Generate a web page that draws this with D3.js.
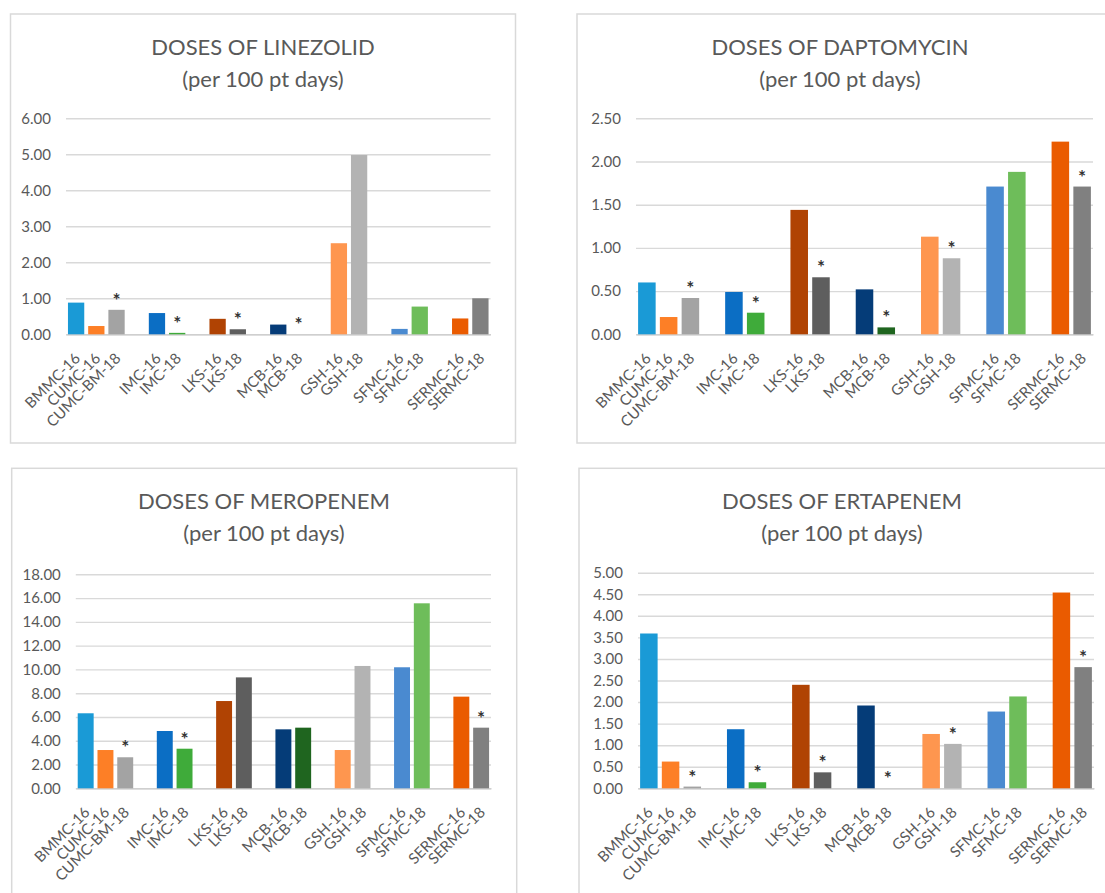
<!DOCTYPE html>
<html>
<head>
<meta charset="utf-8">
<script src="https://cdn.jsdelivr.net/npm/d3@7/dist/d3.min.js"></script>
<style>
  html, body { margin: 0; padding: 0; background: #ffffff; }
  svg { display: block; font-family: Lato, "Open Sans", sans-serif; }
</style>
</head>
<body>
<svg id="chart" width="1105" height="893"></svg>
<script>
// Hospital sites, with empty slots separating the site groups on the category axis
const categories = ["BMMC-16", "CUMC-16", "CUMC-BM-18", null, "IMC-16", "IMC-18", null,
  "LKS-16", "LKS-18", null, "MCB-16", "MCB-18", null, "GSH-16", "GSH-18", null,
  "SFMC-16", "SFMC-18", null, "SERMC-16", "SERMC-18"];

// Doses per 100 patient days, one value per named category above
const linezolidValues  = [0.88, 0.23, 0.68, 0.59, 0.04, 0.43, 0.14, 0.27, 0.00, 2.53, 4.98, 0.15, 0.77, 0.44, 1.00];
const daptomycinValues = [0.60, 0.20, 0.42, 0.49, 0.25, 1.44, 0.66, 0.52, 0.08, 1.13, 0.88, 1.71, 1.88, 2.23, 1.71];
const meropenemValues  = [6.31, 3.22, 2.61, 4.82, 3.33, 7.34, 9.33, 4.96, 5.10, 3.22, 10.29, 10.18, 15.56, 7.71, 5.10];
const ertapenemValues  = [3.59, 0.62, 0.04, 1.37, 0.14, 2.40, 0.37, 1.92, 0.00, 1.26, 1.03, 1.78, 2.13, 4.54, 2.81];

// Bars flagged with an asterisk in each chart
const linezolidStars  = ["CUMC-BM-18", "IMC-18", "LKS-18", "MCB-18"];
const daptomycinStars = ["CUMC-BM-18", "IMC-18", "LKS-18", "MCB-18", "GSH-18", "SERMC-18"];
const meropenemStars  = ["CUMC-BM-18", "IMC-18", "SERMC-18"];
const ertapenemStars  = ["CUMC-BM-18", "IMC-18", "LKS-18", "MCB-18", "GSH-18", "SERMC-18"];

// Y axis tick values per chart
const linezolidTicks  = [0, 1, 2, 3, 4, 5, 6];
const daptomycinTicks = [0, 0.5, 1, 1.5, 2, 2.5];
const meropenemTicks  = [0, 2, 4, 6, 8, 10, 12, 14, 16, 18];
const ertapenemTicks  = [0, 0.5, 1, 1.5, 2, 2.5, 3, 3.5, 4, 4.5, 5];

const titles = ["DOSES OF LINEZOLID", "DOSES OF DAPTOMYCIN", "DOSES OF MEROPENEM", "DOSES OF ERTAPENEM"];
const subtitle = "(per 100 pt days)";

// One fill per site/year bar
const barColors = {
  "BMMC-16": "#1a9ad6", "CUMC-16": "#fd7f26", "CUMC-BM-18": "#a3a3a3",
  "IMC-16": "#0b6ec4", "IMC-18": "#3fab3a",
  "LKS-16": "#b04303", "LKS-18": "#5e5e5e",
  "MCB-16": "#053c78", "MCB-18": "#1f651f",
  "GSH-16": "#fe964f", "GSH-18": "#b3b3b3",
  "SFMC-16": "#4a8ad0", "SFMC-18": "#6ebd5a",
  "SERMC-16": "#ea5b00", "SERMC-18": "#808080"
};

// Panel frames, title centres and plot areas
const panels = [
  { title: titles[0], values: linezolidValues,  stars: linezolidStars,  ticks: linezolidTicks,
    box: [10.5, 14, 505], titleX: 263, plotX: [66, 490.5], plotY: [118.3, 334.3] },
  { title: titles[1], values: daptomycinValues, stars: daptomycinStars, ticks: daptomycinTicks,
    box: [577, 14, 545], titleX: 840, plotX: [636, 1093], plotY: [118.3, 334.3] },
  { title: titles[2], values: meropenemValues,  stars: meropenemStars,  ticks: meropenemTicks,
    box: [11.7, 468.3, 505], titleX: 264, plotX: [75.8, 491], plotY: [574.3, 788.3] },
  { title: titles[3], values: ertapenemValues,  stars: ertapenemStars,  ticks: ertapenemTicks,
    box: [579, 468.3, 545], titleX: 842, plotX: [638, 1094], plotY: [572.7, 788.3] }
];
const boxH = 429;

const svg = d3.select("#chart");
const textColor = "#595959";
const gridColor = "#d9d9d9";

panels.forEach(p => {
  const g = svg.append("g");

  // chart frame
  g.append("rect")
    .attr("x", p.box[0]).attr("y", p.box[1])
    .attr("width", p.box[2]).attr("height", boxH)
    .attr("fill", "#ffffff").attr("stroke", "#d9d9d9").attr("stroke-width", 1.5);

  // title lines
  g.append("text").attr("x", p.titleX).attr("y", p.box[1] + 41)
    .attr("text-anchor", "middle").attr("font-size", 22).attr("fill", textColor)
    .text(p.title);
  g.append("text").attr("x", p.titleX).attr("y", p.box[1] + 73)
    .attr("text-anchor", "middle").attr("font-size", 22).attr("fill", textColor)
    .text(subtitle);

  // scales
  const x = d3.scaleBand().domain(d3.range(categories.length))
    .range(p.plotX).paddingInner(0.194).paddingOuter(0.097);
  const yMax = d3.max(p.ticks);
  const y = d3.scaleLinear().domain([0, yMax]).range([p.plotY[1], p.plotY[0]]);

  // gridlines and tick labels through a left axis
  const yAxis = d3.axisLeft(y).tickValues(p.ticks).tickFormat(d3.format(".2f"))
    .tickSize(-(p.plotX[1] - p.plotX[0])).tickPadding(15);
  const ya = g.append("g").attr("transform", `translate(${p.plotX[0]},0)`).call(yAxis);
  ya.select(".domain").remove();
  ya.selectAll(".tick line").attr("stroke", gridColor).attr("stroke-width", 1.4);
  ya.selectAll(".tick text").attr("fill", textColor).attr("font-size", 15)
    .attr("font-family", "Lato, sans-serif");

  // category axis: rotated labels, no ticks
  const named = categories.map((c, i) => ({ c, i })).filter(d => d.c !== null);
  const xAxis = d3.axisBottom(x).tickValues(named.map(d => d.i))
    .tickFormat(i => categories[i]).tickSize(0).tickPadding(0);
  const xa = g.append("g").attr("transform", `translate(0,${p.plotY[1]})`).call(xAxis);
  xa.select(".domain").attr("stroke", "#cfcfcf").attr("stroke-width", 1.4);
  xa.selectAll(".tick text")
    .attr("fill", textColor).attr("font-size", 15).attr("font-family", "Lato, sans-serif")
    .attr("text-anchor", "end").attr("dy", null).attr("y", 0)
    .attr("transform", "translate(5,25) rotate(-45)");

  // bars
  const rows = named.map((d, k) => ({ name: d.c, slot: d.i, value: p.values[k] }));
  g.append("g").selectAll("rect").data(rows.filter(d => d.value > 0)).join("rect")
    .attr("x", d => x(d.slot)).attr("width", x.bandwidth())
    .attr("y", d => y(d.value)).attr("height", d => y(0) - y(d.value))
    .attr("fill", d => barColors[d.name]);

  // asterisk marks above flagged bars
  g.append("g").selectAll("text").data(rows.filter(d => p.stars.includes(d.name))).join("text")
    .attr("x", d => x(d.slot) + x.bandwidth() / 2)
    .attr("y", d => y(d.value) - 3)
    .attr("text-anchor", "middle").attr("font-size", 19).attr("font-weight", "bold")
    .attr("fill", "#333333").text("*");
});
</script>
</body>
</html>
